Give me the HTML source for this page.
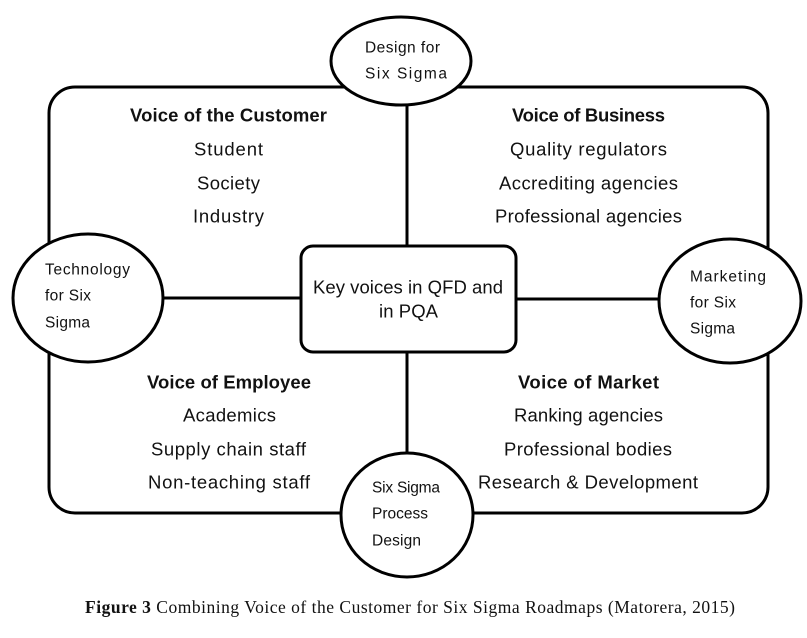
<!DOCTYPE html>
<html><head><meta charset="utf-8"><style>
html,body{margin:0;padding:0;background:#fff;}
svg{display:block;}
text{font-family:"Liberation Sans",sans-serif;fill:#111;dominant-baseline:central;}
.b{font-size:18.5px;}
.h{font-size:18.5px;font-weight:bold;}
.s{font-size:15.5px;}
.c{font-family:"Liberation Serif",serif;font-size:17.5px;}
</style></head><body>
<svg width="807" height="638" viewBox="0 0 807 638">
<g fill="none" stroke="#000" stroke-width="3">
<rect x="49" y="87" width="719" height="426" rx="26"/>
<line x1="407" y1="100" x2="407" y2="246"/>
<line x1="407" y1="352" x2="407" y2="455"/>
<line x1="160" y1="298" x2="301" y2="298"/>
<line x1="516" y1="299" x2="660" y2="299"/>
</g>
<g fill="#fff" stroke="#000" stroke-width="3">
<rect x="301" y="246" width="215" height="106" rx="12"/>
<ellipse cx="401" cy="61" rx="70" ry="44"/>
<ellipse cx="88" cy="298" rx="75" ry="64"/>
<ellipse cx="730" cy="301" rx="71" ry="62"/>
<ellipse cx="407" cy="515" rx="66" ry="62"/>
</g>
<text class="h" x="130" y="115" textLength="197">Voice of the Customer</text>
<text class="b" x="194" y="149" textLength="69">Student</text>
<text class="b" x="197" y="183" textLength="63">Society</text>
<text class="b" x="193" y="216" textLength="71">Industry</text>
<text class="h" x="512" y="115" textLength="153">Voice of Business</text>
<text class="b" x="510" y="149" textLength="157">Quality regulators</text>
<text class="b" x="499" y="183" textLength="179">Accrediting agencies</text>
<text class="b" x="495" y="216" textLength="187">Professional agencies</text>
<text class="h" x="147" y="382" textLength="164">Voice of Employee</text>
<text class="b" x="183" y="415" textLength="93">Academics</text>
<text class="b" x="151" y="449" textLength="155">Supply chain staff</text>
<text class="b" x="148" y="482" textLength="162">Non-teaching staff</text>
<text class="h" x="518" y="382" textLength="141">Voice of Market</text>
<text class="b" x="514" y="415" textLength="149">Ranking agencies</text>
<text class="b" x="504" y="449" textLength="168">Professional bodies</text>
<text class="b" x="478" y="482" textLength="220">Research &amp; Development</text>
<text class="b" x="313" y="287" textLength="190">Key voices in QFD and</text>
<text class="b" x="379" y="311" textLength="59">in PQA</text>
<text class="s" x="365" y="48" textLength="75">Design for</text>
<text class="s" x="365" y="74" textLength="82">Six Sigma</text>
<text class="s" x="45" y="270" textLength="85">Technology</text>
<text class="s" x="45" y="296" textLength="46">for Six</text>
<text class="s" x="45" y="323" textLength="45">Sigma</text>
<text class="s" x="690" y="277" textLength="76">Marketing</text>
<text class="s" x="690" y="303" textLength="46">for Six</text>
<text class="s" x="690" y="329" textLength="45">Sigma</text>
<text class="s" x="372" y="488" textLength="68">Six Sigma</text>
<text class="s" x="372" y="514" textLength="56">Process</text>
<text class="s" x="372" y="541" textLength="49">Design</text>
<text class="c" x="85" y="607" textLength="650"><tspan font-weight="bold">Figure 3</tspan> Combining Voice of the Customer for Six Sigma Roadmaps (Matorera, 2015)</text>
</svg>
</body></html>
